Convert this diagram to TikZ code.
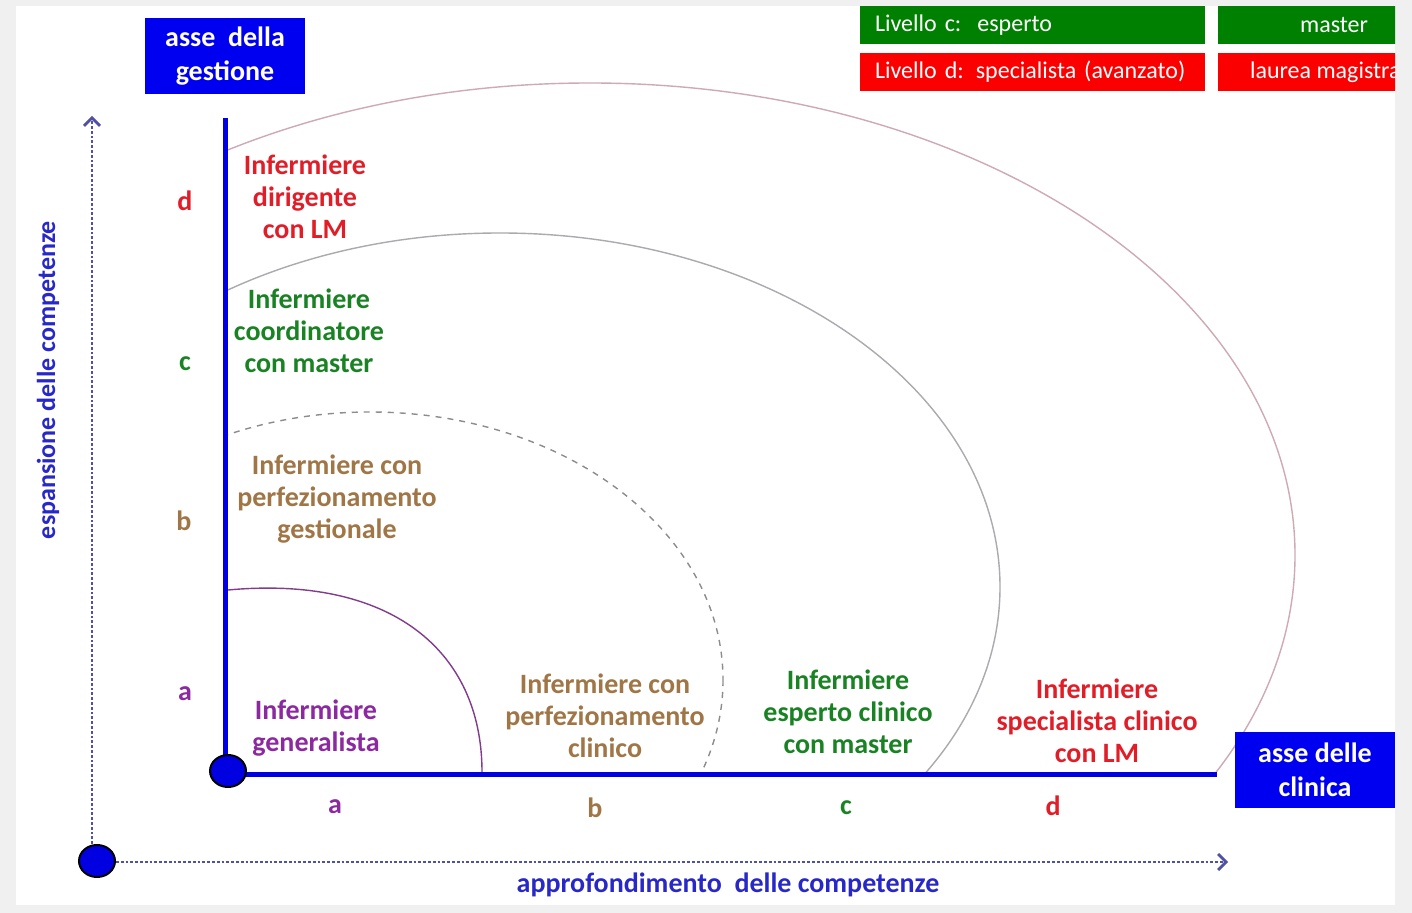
\documentclass[tikz,border=0pt]{standalone}
\usepackage{fontspec}
\setmainfont{Carlito}
\usetikzlibrary{positioning,shapes.geometric,arrows.meta}
\definecolor{axisblue}{RGB}{0,0,225}
\definecolor{boxblue}{RGB}{0,0,240}
\definecolor{boxgreen}{RGB}{0,128,0}
\definecolor{boxred}{RGB}{250,0,0}
\definecolor{txtred}{RGB}{225,30,40}
\definecolor{txtgreen}{RGB}{25,130,35}
\definecolor{txtbrown}{RGB}{160,118,70}
\definecolor{txtpurple}{RGB}{140,40,160}
\definecolor{txtblue}{RGB}{40,40,200}
\definecolor{dotline}{RGB}{80,80,165}
\definecolor{framegray}{RGB}{240,240,240}
\definecolor{arcd}{RGB}{205,170,180}
\definecolor{arcc}{RGB}{170,170,175}
\definecolor{arcb}{RGB}{140,140,140}
\definecolor{arca}{RGB}{130,60,140}
\newcommand{\bigfont}{\bfseries\fontsize{14pt}{16pt}\selectfont}
\tikzset{axisbox/.style={shape=rectangle, fill=boxblue, text=white, align=center, font=\bigfont, minimum width=80pt, minimum height=38pt, inner sep=0pt},
  levelbox/.style={shape=rectangle, text=white, font=\fontsize{12pt}{14pt}\selectfont, minimum height=19pt, inner sep=0pt},
  figure/.style={align=center, font=\bigfont, inner sep=0pt},
  grade/.style={font=\bigfont, inner sep=0pt},
  dot/.style={shape=ellipse, draw=black, line width=1pt, fill=axisblue, minimum width=18pt, minimum height=16pt, inner sep=0pt},
  ring/.style={line width=0.7pt},
  guide/.style={dotline, line width=1.4pt, densely dotted, -{Straight Barb[length=4pt,width=8pt]}}}

\begin{document}
\begin{tikzpicture}[x=0.5pt, y=-0.5pt]
\useasboundingbox (0,0) rectangle (1412,913);
\fill[framegray] (0,0) rectangle (1412,913);
\fill[white] (16,6) rectangle (1395,905);
% livelli in alto a destra
\begin{scope}
    \clip (16,6) rectangle (1395,905);
    \node[levelbox, fill=boxgreen, text width=157.5pt, inner xsep=7.5pt, align=left] (levc) at (1032.5,25) {Livello c:\ \ esperto};
    \node[levelbox, fill=boxred, text width=157.5pt, inner xsep=7.5pt, align=left] (levd) at (1032.5,72) {Livello d: specialista (avanzato)};
    \node[levelbox, fill=boxgreen, minimum width=116pt] (titc) at (1334,25) {master};
    \node[levelbox, fill=boxred, minimum width=116pt] (titd) at (1334,72) {laurea magistrale};
\end{scope}
% archi
\begin{scope}
    \clip (228,0) rectangle (1400,773);
    \draw[ring, arcd] (590,555) ellipse[x radius=705, y radius=472];
    \draw[ring, arcc] (500,587) ellipse[x radius=500, y radius=354];
    \draw[ring, arcb, dashed] (370,680) ellipse[x radius=353, y radius=268];
\end{scope}
\draw[ring, arca] (228,590) .. controls (390,575) and (482,650) .. (482,772);
% assi
\coordinate (orig) at (228,771);
\coordinate (gtop) at (225,118);
\coordinate (cend) at (1217,774);
\draw[axisblue, line width=2.5pt] (orig -| gtop) -- (gtop);
\draw[axisblue, line width=2.5pt] (orig |- cend) -- (cend);
\node[dot] (o) at (orig) {};
\node[dot] (O) at (97,861) {};
\coordinate (vtip) at (92,116);
\coordinate (htip) at (1228,862);
\draw[guide] (O.north -| vtip) -- (vtip);
\draw[guide] (O.east |- htip) -- (htip);
\node[txtblue, font=\bfseries\fontsize{13pt}{15pt}\selectfont, rotate=90, inner sep=0pt] (vlab) at (48,380) {espansione delle competenze};
\node[txtblue, grade] (hlab) at (728,885) {approfondimento\ \ delle competenze};
\node[axisbox] (gest) at (225,56.5) {asse\ \ della\\[1pt]gestione};
\node[axisbox] (clin) at (1315,770) {asse delle\\[1pt]clinica};
% gradi
\node[grade, txtred] (gd) at (185,201) {d};
\node[grade, txtgreen] (gc) at (185,364) {c};
\node[grade, txtbrown] (gb) at (184,521) {b};
\node[grade, txtpurple] (ga) at (185,694) {a};
\node[grade, txtpurple] (ca) at (335,807) {a};
\node[grade, txtbrown] (cb) at (595,808) {b};
\node[grade, txtgreen] (cc) at (846,808) {c};
\node[grade, txtred] (cd) at (1053,806) {d};
% figure
\node[figure, txtred] (dir) at (305,197) {Infermiere\\dirigente\\con LM};
\node[figure, txtgreen] (coord) at (309,331) {Infermiere\\coordinatore\\con master};
\node[figure, txtbrown] (pgest) at (337,499) {Infermiere con\\perfezionamento\\gestionale};
\node[figure, txtpurple] (gen) at (316,728) {Infermiere\\generalista};
\node[figure, txtbrown] (pclin) at (605,716) {Infermiere con\\perfezionamento\\clinico};
\node[figure, txtgreen] (esp) at (848,712) {Infermiere\\esperto clinico\\con master};
\node[figure, txtred] (spec) at (1097,721) {Infermiere\\specialista clinico\\con LM};
\end{tikzpicture}
\end{document}
